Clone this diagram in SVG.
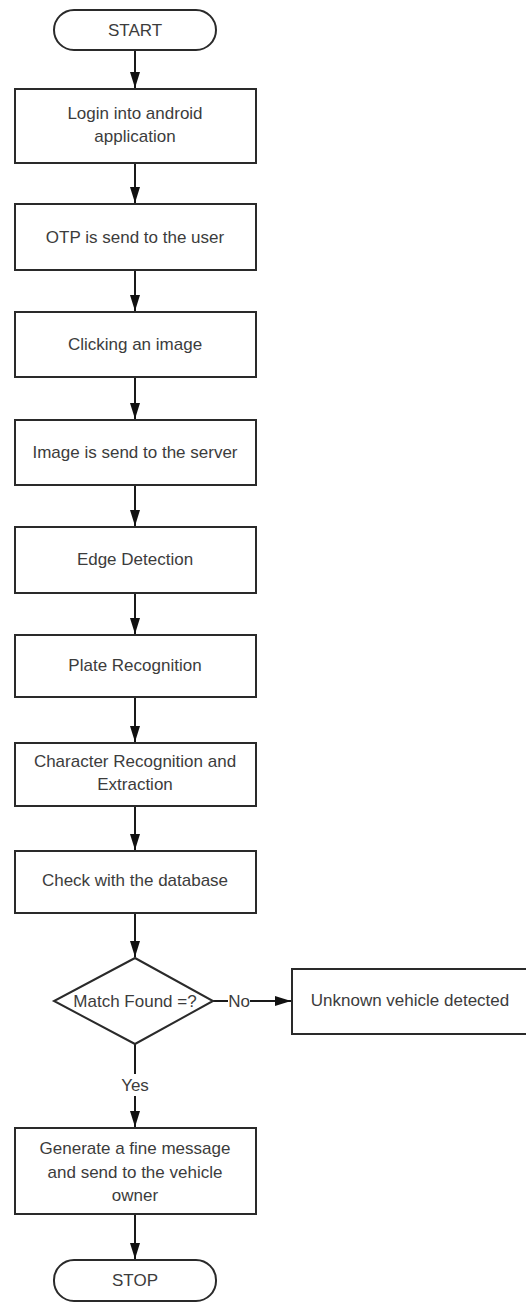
<svg xmlns="http://www.w3.org/2000/svg" width="526" height="1303" viewBox="0 0 526 1303">
<style>
.n{fill:#fff;stroke:#2a2a2a;stroke-width:2}
.t{font-family:"Liberation Sans",Arial,sans-serif;font-size:17px;fill:#3c3c3c;text-anchor:middle;dominant-baseline:central}
.c{stroke:#1a1a1a;stroke-width:2;fill:none}
</style>
<defs>
<marker id="ah" viewBox="0 0 16 10" refX="16" refY="5" markerWidth="16" markerHeight="10" markerUnits="userSpaceOnUse" orient="auto">
<path d="M0,0 L16,5 L0,10 Z" fill="#111"/>
</marker>
</defs>
<rect width="526" height="1303" fill="#fff"/>
<g id="connectors">
<line class="c" x1="135" y1="50" x2="135" y2="88" marker-end="url(#ah)"/>
<line class="c" x1="135" y1="163" x2="135" y2="203" marker-end="url(#ah)"/>
<line class="c" x1="135" y1="270" x2="135" y2="311" marker-end="url(#ah)"/>
<line class="c" x1="135" y1="377" x2="135" y2="419" marker-end="url(#ah)"/>
<line class="c" x1="135" y1="485" x2="135" y2="526" marker-end="url(#ah)"/>
<line class="c" x1="135" y1="593" x2="135" y2="634" marker-end="url(#ah)"/>
<line class="c" x1="135" y1="697" x2="135" y2="742" marker-end="url(#ah)"/>
<line class="c" x1="135" y1="806" x2="135" y2="850" marker-end="url(#ah)"/>
<line class="c" x1="135" y1="913" x2="135" y2="957" marker-end="url(#ah)"/>
<line class="c" x1="213" y1="1001" x2="228" y2="1001"/>
<line class="c" x1="250" y1="1001" x2="291" y2="1001" marker-end="url(#ah)"/>
<text class="t" x="239" y="1001" font-size="15">No</text>
<line class="c" x1="135" y1="1044" x2="135" y2="1074"/>
<line class="c" x1="135" y1="1096" x2="135" y2="1127" marker-end="url(#ah)"/>
<text class="t" x="135" y="1085">Yes</text>
<line class="c" x1="135" y1="1214" x2="135" y2="1259" marker-end="url(#ah)"/>
</g>
<g id="start">
<rect class="n" x="54" y="10" width="162" height="40" rx="20" ry="20"/>
<text class="t" x="135" y="30">START</text>
</g>
<g id="login">
<rect class="n" x="15" y="89" width="241" height="74"/>
<text class="t" x="135" y="113">Login into android</text>
<text class="t" x="135" y="136">application</text>
</g>
<g id="otp">
<rect class="n" x="15" y="204" width="241" height="66"/>
<text class="t" x="135" y="237">OTP is send to the user</text>
</g>
<g id="click">
<rect class="n" x="15" y="312" width="241" height="65"/>
<text class="t" x="135" y="344">Clicking an image</text>
</g>
<g id="server">
<rect class="n" x="15" y="420" width="241" height="65"/>
<text class="t" x="135" y="452">Image is send to the server</text>
</g>
<g id="edge">
<rect class="n" x="15" y="527" width="241" height="66"/>
<text class="t" x="135" y="559">Edge Detection</text>
</g>
<g id="plate">
<rect class="n" x="15" y="635" width="241" height="62"/>
<text class="t" x="135" y="665">Plate Recognition</text>
</g>
<g id="char">
<rect class="n" x="15" y="743" width="241" height="63"/>
<text class="t" x="135" y="761">Character Recognition and</text>
<text class="t" x="135" y="784">Extraction</text>
</g>
<g id="check">
<rect class="n" x="15" y="851" width="241" height="62"/>
<text class="t" x="135" y="880">Check with the database</text>
</g>
<g id="decision">
<polygon class="n" points="135,958 213,1001 135,1044 54,1001"/>
<text class="t" x="135" y="1001">Match Found =?</text>
</g>
<g id="unknown">
<rect class="n" x="292" y="969" width="240" height="65"/>
<text class="t" x="410" y="1000">Unknown vehicle detected</text>
</g>
<g id="fine">
<rect class="n" x="15" y="1128" width="241" height="86"/>
<text class="t" x="135" y="1148">Generate a fine message</text>
<text class="t" x="135" y="1172">and send to the vehicle</text>
<text class="t" x="135" y="1195">owner</text>
</g>
<g id="stop">
<rect class="n" x="54" y="1260" width="162" height="41" rx="20" ry="20"/>
<text class="t" x="135" y="1280">STOP</text>
</g>
</svg>
